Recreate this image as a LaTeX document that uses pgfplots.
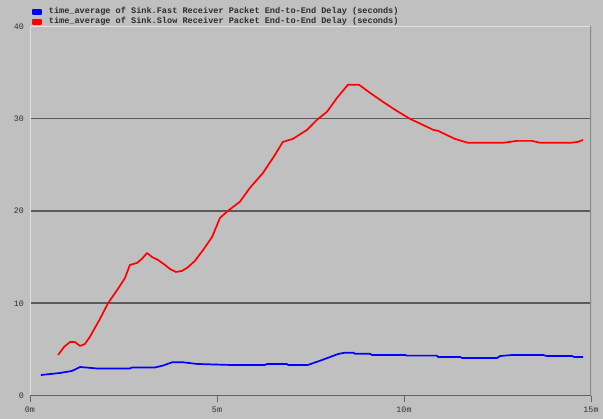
\documentclass[border=0pt]{standalone}
\usepackage{fontspec}
\setmainfont{Liberation Mono}
\usepackage{pgfplots}
\pgfplotsset{compat=1.18}
\definecolor{bg}{RGB}{192,192,192}
\definecolor{gridc}{RGB}{90,90,90}
\definecolor{txt}{RGB}{50,50,50}
\definecolor{legtxt}{RGB}{45,45,45}
\definecolor{lightln}{RGB}{225,225,225}
\definecolor{rightln}{RGB}{140,140,140}
\definecolor{botln}{RGB}{100,100,100}
\definecolor{sinkblue}{RGB}{0,0,255}
\definecolor{sinkred}{RGB}{255,0,0}
\begin{document}
\begin{tikzpicture}
\fill[bg] (-30bp,-23.5bp) rectangle (573bp,395.5bp);
\begin{axis}[
  at={(0,0)}, anchor=south west,
  scale only axis, width=561bp, height=369bp,
  xmin=0, xmax=15, ymin=0, ymax=40,
  axis line style={draw=none},
  xtick={0,5,10,15}, xticklabels={0m,5m,10m,15m},
  ytick={0,10,20,30,40},
  xtick pos=bottom, ytick pos=left,
  tick align=outside,
  major tick length=7bp,
  x tick style={botln, line width=1bp},
  y tick style={draw=none},
  ymajorgrids, grid style={gridc, line width=1.5bp},
  /pgf/number format/assume math mode=true,
  tick label style={font=\fontsize{8.4}{9}\selectfont, text=txt},
  xticklabel style={inner sep=1bp, yshift=-3bp},
  yticklabel style={inner sep=0pt, xshift=1bp},
  legend style={font=\bfseries\fontsize{8.6}{10}\selectfont, text=legtxt, draw=none, fill=none,
    inner sep=0pt, row sep=0pt,
    nodes={inner sep=1bp, text height=6bp, text depth=2bp},
    at={(rel axis cs:0,1)}, anchor=south west, xshift=2bp, yshift=-0.5bp},
  legend cell align=left,
  legend image code/.code={\fill (0bp,-2bp) rectangle (8bp,2bp); \path (14bp,0bp);},
]
\addplot[color=sinkblue, line width=1.7bp, line join=round] coordinates {
(0.29,2.22)(0.80,2.44)(1.12,2.66)(1.34,3.09)(1.79,2.93)(2.67,2.93)(2.73,3.04)
(3.34,3.04)(3.56,3.25)(3.80,3.60)(4.09,3.60)(4.47,3.42)(5.35,3.31)(6.28,3.31)
(6.34,3.42)(6.87,3.42)(6.90,3.31)(7.43,3.31)(7.81,3.85)(8.24,4.50)(8.42,4.64)
(8.64,4.64)(8.69,4.53)(9.09,4.53)(9.14,4.39)(10.03,4.39)(10.08,4.32)(10.88,4.32)
(10.91,4.18)(11.50,4.18)(11.55,4.07)(12.49,4.07)(12.57,4.28)(12.89,4.39)(13.72,4.39)
(13.82,4.28)(14.49,4.28)(14.55,4.18)(14.79,4.18)
};
\addlegendentry{time\_average of Sink.Fast Receiver Packet End-to-End Delay (seconds)}
\addplot[color=sinkred, line width=1.7bp, line join=round] coordinates {
(0.75,4.39)(0.91,5.26)(1.07,5.80)(1.20,5.80)(1.34,5.37)(1.47,5.59)(1.60,6.35)
(1.87,8.30)(2.09,10.03)(2.35,11.55)(2.54,12.74)(2.67,14.15)(2.86,14.37)(2.99,14.80)
(3.13,15.45)(3.26,15.02)(3.42,14.70)(3.61,14.15)(3.74,13.72)(3.90,13.39)(4.06,13.50)
(4.20,13.83)(4.41,14.59)(4.63,15.78)(4.87,17.19)(5.08,19.25)(5.29,20.01)(5.61,20.99)
(5.88,22.51)(6.23,24.13)(6.55,26.08)(6.76,27.49)(7.03,27.82)(7.41,28.80)(7.67,29.88)
(7.94,30.75)(8.21,32.27)(8.50,33.68)(8.80,33.68)(9.09,32.81)(9.44,31.83)(9.76,30.97)
(10.16,29.99)(10.56,29.23)(10.78,28.80)(10.91,28.69)(11.36,27.82)(11.71,27.39)
(12.65,27.39)(13.02,27.60)(13.42,27.60)(13.64,27.39)(14.44,27.39)(14.65,27.49)(14.79,27.71)
};
\addlegendentry{time\_average of Sink.Slow Receiver Packet End-to-End Delay (seconds)}
\draw[lightln, line width=1.2bp] (rel axis cs:0,0) -- (rel axis cs:0,1) -- (rel axis cs:1,1);
\draw[rightln, line width=1.2bp] (rel axis cs:1,1) -- (rel axis cs:1,0);
\draw[botln, line width=1bp] (rel axis cs:0,0) -- (rel axis cs:1,0);
\end{axis}
\end{tikzpicture}
\end{document}
